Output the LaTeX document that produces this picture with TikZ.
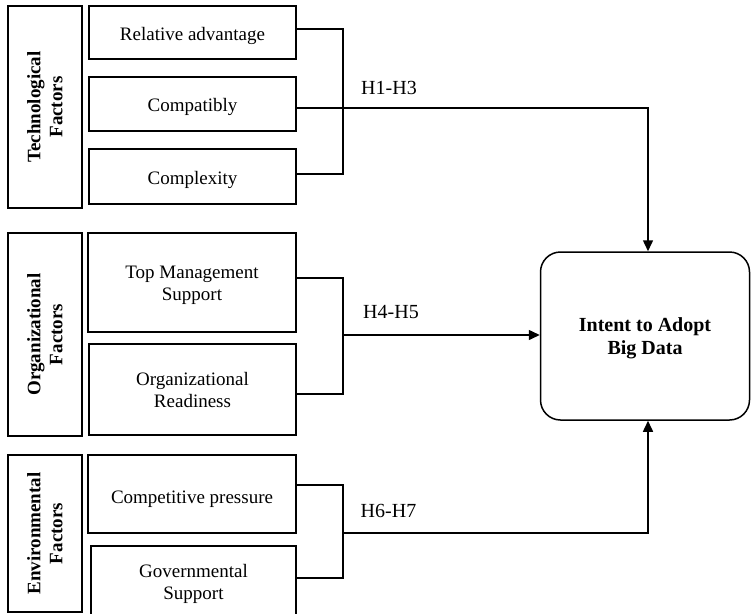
\documentclass[tikz,border=0pt]{standalone}
\usepackage{fontspec}
\setmainfont{Liberation Serif}
\usetikzlibrary{arrows.meta}
% shift a line of text down without changing its reported size
\newcommand\lowered[2]{\raisebox{-#1}[\height][\depth]{#2}}
\begin{document}
\begin{tikzpicture}[x=1pt,y=-1pt,
  box/.style={draw,line width=1.5pt,inner sep=2pt,align=center,
    font=\fontsize{19}{22}\selectfont},
  factor/.style={box,rotate=90,font=\bfseries\fontsize{19}{22}\selectfont},
  wire/.style={line width=1.5pt},
  arrow/.style={wire,-{Triangle[length=11pt,width=10pt]}},
  hyp/.style={font=\fontsize{20}{22}\selectfont,inner sep=0pt}]
\useasboundingbox (0,0) rectangle (751,613);

% Technological factors
\node[factor,minimum width=202pt,minimum height=74pt] (tf) at (45,107)
  {Technological\\Factors};
\node[box,minimum width=207pt,minimum height=53pt] (ra) at (192.5,32.5)
  {\lowered{3pt}{Relative advantage}};
\node[box,minimum width=207pt,minimum height=54pt] (cp) at (192.5,104)
  {\lowered{3pt}{Compatibly}};
\node[box,minimum width=207pt,minimum height=55pt] (cx) at (192.5,176.5)
  {\lowered{3pt}{Complexity}};

% Organizational factors
\node[factor,minimum width=203pt,minimum height=74pt] (of) at (45,334.5)
  {Organizational\\Factors};
\node[box,minimum width=208pt,minimum height=99pt] (tms) at (192,282.5)
  {\lowered{3pt}{Top Management}\\\lowered{3pt}{Support}};
\node[box,minimum width=207pt,minimum height=91pt] (orr) at (192.5,389.5)
  {Organizational\\Readiness};

% Environmental factors
\node[factor,minimum width=157pt,minimum height=74pt] (ef) at (45,533.5)
  {Environmental\\Factors};
\node[box,minimum width=208pt,minimum height=78pt] (cpp) at (192,494)
  {\lowered{5pt}{Competitive pressure}};
\node[box,minimum width=205pt,minimum height=76pt] (gs) at (193.5,584)
  {Governmental\\Support};

% Outcome
\node[box,rounded corners=20pt,minimum width=209pt,minimum height=168pt,
  font=\bfseries\fontsize{20}{23}\selectfont] (intent) at (645,336)
  {\lowered{2pt}{Intent to Adopt}\\\lowered{2pt}{Big Data}};

% Brackets joining each group
\coordinate (b1t) at (343,29);  \coordinate (b1m) at (343,108); \coordinate (b1b) at (343,174);
\coordinate (b2t) at (343,278); \coordinate (b2m) at (343,335); \coordinate (b2b) at (343,394);
\coordinate (b3t) at (343,485); \coordinate (b3m) at (343,533); \coordinate (b3b) at (343,578);

\draw[wire] (b1t -| ra.east) -- (b1t) -- (b1b) -- (b1b -| cx.east);
\draw[wire] (b2t -| tms.east) -- (b2t) -- (b2b) -- (b2b -| orr.east);
\draw[wire] (b3t -| cpp.east) -- (b3t) -- (b3b) -- (b3b -| gs.east);

% Paths into the outcome
\draw[arrow] (b1m -| cp.east) -| ([xshift=3pt]intent.north);
\draw[arrow] (b2m) -- (b2m -| intent.west);
\draw[arrow] (b3m) -| ([xshift=3pt]intent.south);

% Hypothesis labels
\node[hyp] (h13) at (389,88) {H1-H3};
\node[hyp] (h45) at (391,312) {H4-H5};
\node[hyp] (h67) at (388.5,511) {H6-H7};
\end{tikzpicture}
\end{document}
